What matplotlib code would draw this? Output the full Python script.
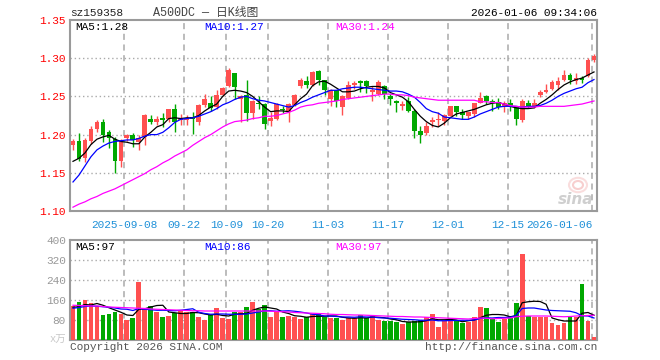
import matplotlib
matplotlib.use("Agg")
import matplotlib.pyplot as plt
from matplotlib.patches import Ellipse
import numpy as np

# ---- data (bar index 0..87, last bar = 2026-01-06) ----
opens = [1.187, 1.191, 1.169, 1.191, 1.207, 1.216, 1.204, 1.194, 1.165, 1.195,
         1.200, 1.190, 1.197, 1.221, 1.217, 1.222, 1.220, 1.233, 1.219, 1.219,
         1.223, 1.216, 1.239, 1.242, 1.236, 1.252, 1.264, 1.280, 1.246, 1.252,
         1.228, 1.242, 1.240, 1.218, 1.221, 1.234, 1.229, 1.239, 1.263, 1.270,
         1.265, 1.283, 1.271, 1.246, 1.258, 1.236, 1.248, 1.265, 1.270, 1.270,
         1.256, 1.253, 1.263, 1.250, 1.244, 1.238, 1.244, 1.231, 1.205, 1.202,
         1.216, 1.219, 1.218, 1.225, 1.237, 1.229, 1.224, 1.227, 1.242, 1.250,
         1.244, 1.243, 1.238, 1.241, 1.237, 1.219, 1.242, 1.237, 1.252, 1.256,
         1.260, 1.265, 1.272, 1.278, 1.270, 1.274, 1.277, 1.297]
closes = [1.191, 1.168, 1.193, 1.207, 1.216, 1.200, 1.195, 1.166, 1.191, 1.199,
          1.193, 1.196, 1.226, 1.217, 1.221, 1.219, 1.233, 1.216, 1.222, 1.222,
          1.221, 1.239, 1.247, 1.235, 1.252, 1.261, 1.285, 1.262, 1.250, 1.228,
          1.244, 1.240, 1.214, 1.222, 1.240, 1.232, 1.240, 1.252, 1.271, 1.265,
          1.282, 1.271, 1.258, 1.258, 1.244, 1.251, 1.265, 1.267, 1.267, 1.263,
          1.259, 1.269, 1.253, 1.247, 1.241, 1.240, 1.231, 1.205, 1.199, 1.211,
          1.219, 1.221, 1.226, 1.237, 1.230, 1.226, 1.229, 1.241, 1.248, 1.244,
          1.242, 1.236, 1.241, 1.237, 1.220, 1.244, 1.237, 1.242, 1.256, 1.259,
          1.269, 1.270, 1.278, 1.271, 1.274, 1.271, 1.297, 1.303]
highs = [1.194, 1.202, 1.196, 1.211, 1.219, 1.220, 1.206, 1.197, 1.194, 1.201,
         1.202, 1.199, 1.227, 1.226, 1.225, 1.228, 1.234, 1.240, 1.227, 1.226,
         1.230, 1.240, 1.253, 1.250, 1.258, 1.262, 1.287, 1.280, 1.252, 1.271,
         1.245, 1.251, 1.241, 1.229, 1.241, 1.238, 1.241, 1.253, 1.274, 1.277,
         1.283, 1.284, 1.272, 1.260, 1.259, 1.252, 1.270, 1.270, 1.271, 1.272,
         1.263, 1.271, 1.265, 1.253, 1.245, 1.244, 1.249, 1.233, 1.211, 1.216,
         1.223, 1.230, 1.227, 1.238, 1.238, 1.233, 1.230, 1.242, 1.256, 1.252,
         1.247, 1.248, 1.244, 1.247, 1.238, 1.246, 1.245, 1.247, 1.258, 1.266,
         1.271, 1.275, 1.284, 1.280, 1.280, 1.277, 1.300, 1.305]
lows = [1.180, 1.166, 1.164, 1.188, 1.203, 1.190, 1.182, 1.150, 1.158, 1.192,
        1.184, 1.180, 1.186, 1.214, 1.212, 1.210, 1.216, 1.203, 1.213, 1.213,
        1.201, 1.213, 1.236, 1.231, 1.233, 1.250, 1.262, 1.247, 1.217, 1.218,
        1.220, 1.234, 1.207, 1.211, 1.219, 1.228, 1.217, 1.237, 1.261, 1.261,
        1.264, 1.265, 1.252, 1.238, 1.236, 1.226, 1.246, 1.260, 1.256, 1.254,
        1.244, 1.252, 1.247, 1.239, 1.229, 1.232, 1.230, 1.196, 1.189, 1.200,
        1.210, 1.211, 1.212, 1.224, 1.225, 1.221, 1.220, 1.223, 1.241, 1.240,
        1.231, 1.233, 1.230, 1.231, 1.212, 1.216, 1.235, 1.235, 1.249, 1.254,
        1.258, 1.259, 1.270, 1.266, 1.266, 1.268, 1.275, 1.295]

ma5 = [1.165, 1.169, 1.176, 1.187, 1.194, 1.197, 1.199, 1.194, 1.191, 1.190,
       1.188, 1.188, 1.197, 1.203, 1.210, 1.213, 1.221, 1.222, 1.221, 1.222,
       1.222, 1.225, 1.231, 1.236, 1.240, 1.250, 1.257, 1.258, 1.257, 1.255,
       1.250, 1.243, 1.236, 1.230, 1.231, 1.231, 1.230, 1.239, 1.247, 1.253,
       1.264, 1.269, 1.270, 1.266, 1.261, 1.256, 1.256, 1.257, 1.260, 1.262,
       1.263, 1.263, 1.261, 1.255, 1.252, 1.249, 1.243, 1.233, 1.224, 1.217,
       1.212, 1.210, 1.215, 1.222, 1.227, 1.229, 1.231, 1.233, 1.236, 1.239,
       1.241, 1.242, 1.240, 1.237, 1.235, 1.234, 1.234, 1.235, 1.241, 1.246,
       1.252, 1.259, 1.265, 1.269, 1.272, 1.274, 1.278, 1.282]
ma10 = [1.138, 1.147, 1.159, 1.171, 1.180, 1.185, 1.189, 1.191, 1.192, 1.193,
        1.193, 1.195, 1.198, 1.200, 1.200, 1.203, 1.209, 1.216, 1.220, 1.221,
        1.222, 1.224, 1.227, 1.230, 1.234, 1.239, 1.242, 1.246, 1.249, 1.250,
        1.247, 1.245, 1.244, 1.242, 1.240, 1.238, 1.236, 1.238, 1.242, 1.245,
        1.249, 1.252, 1.255, 1.258, 1.258, 1.260, 1.261, 1.262, 1.262, 1.261,
        1.260, 1.259, 1.258, 1.257, 1.257, 1.256, 1.253, 1.249, 1.242, 1.234,
        1.230, 1.228, 1.223, 1.222, 1.221, 1.220, 1.220, 1.223, 1.227, 1.230,
        1.233, 1.236, 1.237, 1.237, 1.237, 1.236, 1.237, 1.237, 1.238, 1.241,
        1.245, 1.250, 1.254, 1.257, 1.260, 1.262, 1.268, 1.272]
ma30 = [1.105, 1.109, 1.112, 1.116, 1.119, 1.123, 1.126, 1.129, 1.133, 1.137,
        1.141, 1.145, 1.149, 1.154, 1.158, 1.163, 1.167, 1.172, 1.176, 1.180,
        1.186, 1.191, 1.196, 1.200, 1.205, 1.210, 1.214, 1.217, 1.218, 1.219,
        1.221, 1.222, 1.224, 1.224, 1.225, 1.227, 1.229, 1.232, 1.236, 1.238,
        1.239, 1.241, 1.242, 1.243, 1.244, 1.246, 1.247, 1.248, 1.249, 1.250,
        1.251, 1.252, 1.253, 1.253, 1.252, 1.252, 1.251, 1.249, 1.248, 1.247,
        1.246, 1.245, 1.245, 1.245, 1.245, 1.245, 1.245, 1.245, 1.243, 1.243,
        1.242, 1.242, 1.240, 1.238, 1.237, 1.236, 1.236, 1.236, 1.237, 1.237,
        1.237, 1.237, 1.237, 1.238, 1.239, 1.240, 1.242, 1.244]

volume = [135, 153, 160, 148, 133, 100, 104, 113, 104, 80,
          88, 232, 123, 136, 113, 92, 96, 107, 120, 113,
          113, 93, 80, 99, 128, 89, 84, 113, 113, 132,
          152, 125, 139, 92, 113, 92, 96, 92, 84, 92,
          104, 104, 93, 89, 89, 81, 87, 87, 100, 87,
          100, 81, 77, 77, 72, 64, 72, 76, 81, 91,
          104, 52, 76, 87, 79, 69, 73, 92, 132, 128,
          87, 72, 83, 96, 148, 344, 95, 92, 92, 92,
          68, 60, 68, 91, 92, 224, 77, 12]
vol_ma5 = [131, 133, 142, 140, 146, 139, 129, 120, 111, 100,
           98, 123, 125, 132, 138, 139, 112, 109, 106, 106,
           110, 109, 104, 100, 103, 98, 96, 103, 105, 106,
           119, 127, 132, 128, 124, 112, 106, 97, 95, 91,
           94, 95, 95, 96, 96, 91, 88, 87, 89, 88,
           92, 91, 89, 84, 81, 74, 72, 72, 73, 77,
           85, 81, 81, 82, 80, 73, 77, 80, 89, 99,
           102, 102, 100, 93, 97, 149, 153, 155, 154, 143,
           88, 81, 76, 76, 76, 107, 110, 99]
vol_ma10 = [127, 130, 134, 136, 135, 133, 131, 128, 124, 123,
            118, 126, 123, 121, 119, 119, 118, 117, 119, 122,
            125, 111, 106, 103, 104, 104, 103, 103, 103, 104,
            108, 112, 117, 117, 115, 116, 117, 115, 112, 108,
            103, 101, 96, 96, 94, 92, 92, 91, 93, 92,
            92, 89, 88, 87, 85, 83, 82, 81, 79, 79,
            80, 77, 77, 78, 78, 79, 79, 80, 86, 89,
            88, 90, 90, 91, 98, 126, 128, 128, 124, 120,
            118, 117, 116, 115, 109, 97, 96, 88]
vol_ma30 = [139, 138, 137, 136, 136, 134, 132, 131, 130, 129,
            128, 127, 126, 124, 123, 122, 121, 120, 119, 118,
            117, 117, 116, 116, 116, 116, 116, 116, 116, 116,
            116, 116, 116, 115, 114, 113, 112, 110, 109, 108,
            107, 106, 105, 103, 102, 102, 101, 100, 100, 99,
            98, 97, 96, 95, 94, 94, 93, 92, 92, 91,
            90, 89, 88, 87, 86, 85, 84, 86, 88, 87,
            85, 86, 87, 88, 93, 95, 96, 96, 96, 96,
            95, 94, 93, 94, 96, 97, 98, 99]

tick_idx = [9, 19, 26, 33, 43, 53, 63, 73, 87]
tick_labels = ["2025-09-08", "09-22", "10-09", "10-20", "11-03",
               "11-17", "12-01", "12-15", "2026-01-06"]

UP = "#ff5050"
DOWN = "#00a800"
GRID = "#aaaaaa"
FRAME = "#9a9a9a"
MONO = ["Liberation Mono", "DejaVu Sans Mono"]
CJK = ["Liberation Mono", "Noto Sans CJK SC"]

W, H = 660, 360
fig = plt.figure(figsize=(6.6, 3.6), dpi=100)
fig.patch.set_facecolor("white")


def px_axes(left, top, right, bottom):
    return fig.add_axes([left / W, 1 - bottom / H, (right - left) / W, (bottom - top) / H])


ax = px_axes(70, 20, 597, 211)
axv = px_axes(70, 240, 597, 340)

x = np.arange(len(closes))
o = np.array(opens)
c = np.array(closes)
up = c >= o
colors = np.where(up, UP, DOWN)

# candles
ax.vlines(x, lows, highs, colors=colors, linewidth=1.0, zorder=3)
body_lo = np.minimum(o, c)
body_h = np.maximum(np.abs(c - o), 0.0008)
ax.bar(x, body_h, bottom=body_lo, width=0.8, color=colors, linewidth=0, zorder=4)

ax.plot(x, ma5, color="black", lw=0.9, zorder=5)
ax.plot(x, ma10, color="#0000ff", lw=0.9, zorder=5)
ax.plot(x, ma30, color="#ff00ff", lw=0.9, zorder=5)

# volume
axv.bar(x, volume, width=0.8, color=colors, linewidth=0, zorder=3)
axv.plot(x, vol_ma5, color="black", lw=0.9, zorder=5)
axv.plot(x, vol_ma10, color="#0000ff", lw=0.9, zorder=5)
axv.plot(x, vol_ma30, color="#ff00ff", lw=0.9, zorder=5)

grid_x = [i - 0.4 for i in tick_idx]
for a in (ax, axv):
    a.set_xlim(-0.5, 87.5)
    for s in a.spines.values():
        s.set_color(FRAME)
        s.set_linewidth(1.5)
    for gx in grid_x:
        a.axvline(gx, color=GRID, lw=1.1, ls=(0, (4, 3)), zorder=1)
    a.set_xticks([])
    a.tick_params(axis="y", length=0, pad=3)

ax.set_ylim(1.10, 1.35)
ax.set_yticks([1.10, 1.15, 1.20, 1.25, 1.30, 1.35])
ax.set_yticklabels(["1.10", "1.15", "1.20", "1.25", "1.30", "1.35"],
                   color="red", fontsize=8, family=MONO)
for gy in [1.15, 1.20, 1.25, 1.30]:
    ax.axhline(gy, color=GRID, lw=1.0, ls=(0, (1, 2)), zorder=1)

axv.set_ylim(0, 400)
axv.set_yticks([80, 160, 240, 320, 400])
axv.set_yticklabels(["80", "160", "240", "320", "400"],
                    color="#999999", fontsize=8, family=MONO)
for gy in [80, 160, 240, 320]:
    axv.axhline(gy, color=GRID, lw=1.0, ls=(0, (1, 2)), zorder=1)

# date labels
for i, (gx, lab) in enumerate(zip(grid_x, tick_labels)):
    ha = "right" if i == len(tick_labels) - 1 else "center"
    xx = gx + 0.1 if ha == "right" else gx
    ax.text(xx, -0.045, lab, transform=ax.get_xaxis_transform(), ha=ha, va="top",
            color="#1e90d8", fontsize=8, family=MONO)


def ftext(px, py, s, **kw):
    fig.text(px / W, 1 - py / H, s, **kw)


# header
ftext(70, 13, "sz159358", ha="left", va="center", fontsize=8, family=MONO, color="#222222")
ftext(206, 13, "A500DC — 日K线图", ha="center", va="center", fontsize=8.5, family=CJK,
      color="#444444")
ftext(597, 13, "2026-01-06 09:34:06", ha="right", va="center", fontsize=8, family=MONO,
      color="black")

# MA legends
ftext(75, 27, "MA5:1.28", ha="left", va="center", fontsize=8, family=MONO, color="black")
ftext(204, 27, "MA10:1.27", ha="left", va="center", fontsize=8, family=MONO, color="#0000ff")
ftext(335, 27, "MA30:1.24", ha="left", va="center", fontsize=8, family=MONO, color="#ff00ff")
ftext(75, 247, "MA5:97", ha="left", va="center", fontsize=8, family=MONO, color="black")
ftext(204, 247, "MA10:86", ha="left", va="center", fontsize=8, family=MONO, color="#0000ff")
ftext(335, 247, "MA30:97", ha="left", va="center", fontsize=8, family=MONO, color="#ff00ff")

# unit + footer
ftext(66, 340, "x万", ha="right", va="center", fontsize=7.5, family=CJK, color="#c8c8c8")
ftext(70, 347, "Copyright 2026 SINA.COM", ha="left", va="center", fontsize=8, family=MONO,
      color="#555555")
ftext(597, 347, "http://finance.sina.com.cn", ha="right", va="center", fontsize=8,
      family=MONO, color="#555555")

# watermark: faint eye logo + "sina"
for r, a in [(9, 0.35), (5, 0.5)]:
    fig.add_artist(Ellipse((578 / W, 1 - 185 / H), 2 * r / W, 1.6 * r / H,
                           transform=fig.transFigure, fill=False, edgecolor="#f0a0a0",
                           lw=1.5, alpha=a))
ftext(576, 199, "sina", ha="center", va="center", fontsize=11, family="DejaVu Sans",
      style="italic", weight="bold", color="#bbbbbb", alpha=0.7)

fig.savefig("out.png", dpi=100)
